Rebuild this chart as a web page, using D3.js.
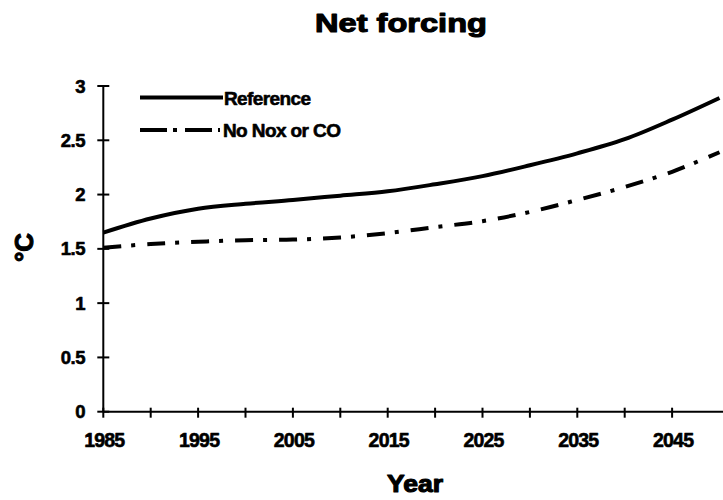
<!DOCTYPE html>
<html>
<head>
<meta charset="utf-8">
<script src="https://cdn.jsdelivr.net/npm/d3@7/dist/d3.min.js"></script>
<style>
  html, body { margin: 0; padding: 0; background: #fff; }
  svg { display: block; }
  text { font-family: "Liberation Sans", Arial, Helvetica, sans-serif; font-weight: bold; fill: #000; stroke: #000; stroke-width: 0.6px; stroke-linejoin: round; }
  text.heading { stroke-width: 1.1px; }
</style>
</head>
<body>
<svg id="chart" width="723" height="500"></svg>
<script>
// Years of the projection (5-year steps)
const years = [1985, 1990, 1995, 2000, 2005, 2010, 2015, 2020, 2025, 2030, 2035, 2040, 2045, 2050];
// Net forcing, °C
const referenceValues = [1.65, 1.78, 1.87, 1.915, 1.95, 1.99, 2.03, 2.095, 2.17, 2.27, 2.38, 2.51, 2.69, 2.89];
const noNoxCoValues   = [1.51, 1.545, 1.565, 1.58, 1.585, 1.605, 1.645, 1.70, 1.755, 1.84, 1.95, 2.07, 2.21, 2.39];
// Axis ticks and labels
const xTickYears  = [1985, 1990, 1995, 2000, 2005, 2010, 2015, 2020, 2025, 2030, 2035, 2040, 2045];
const xLabelYears = [1985, 1995, 2005, 2015, 2025, 2035, 2045];
const yTicks = [0, 0.5, 1, 1.5, 2, 2.5, 3];
const seriesNames = ["Reference", "No Nox or CO"];

const svg = d3.select("#chart");

const x = d3.scaleLinear().domain([1985, 2050]).range([103.3, 719.5]);
const y = d3.scaleLinear().domain([0, 3]).range([411.7, 86]);

// Y axis: line with crossing ticks
const yAxis = svg.append("g");
yAxis.append("line")
  .attr("x1", x(1985)).attr("x2", x(1985))
  .attr("y1", y(0)).attr("y2", y(3))
  .attr("stroke", "#000").attr("stroke-width", 2);
yAxis.selectAll("line.tick").data(yTicks).join("line")
  .attr("class", "tick")
  .attr("x1", x(1985) - 6).attr("x2", x(1985) + 6)
  .attr("y1", d => y(d)).attr("y2", d => y(d))
  .attr("stroke", "#000").attr("stroke-width", 2);
yAxis.selectAll("text").data(yTicks).join("text")
  .attr("x", 85).attr("y", d => y(d) + 6.5)
  .attr("text-anchor", "end")
  .attr("font-size", 18.5)
  .attr("letter-spacing", -0.5)
  .text(d => d3.format("~g")(d));

// X axis
const xAxis = svg.append("g");
xAxis.append("line")
  .attr("x1", x(1985)).attr("x2", 723)
  .attr("y1", y(0)).attr("y2", y(0))
  .attr("stroke", "#000").attr("stroke-width", 2);
xAxis.selectAll("line.tick").data(xTickYears).join("line")
  .attr("class", "tick")
  .attr("x1", d => x(d)).attr("x2", d => x(d))
  .attr("y1", y(0) - 4).attr("y2", y(0) + 6)
  .attr("stroke", "#000").attr("stroke-width", 2);
xAxis.selectAll("text").data(xLabelYears).join("text")
  .attr("x", d => x(d) + 1).attr("y", 447)
  .attr("text-anchor", "middle")
  .attr("font-size", 19.5)
  .attr("letter-spacing", -0.8)
  .text(d => d);

// Series lines
const line = d3.line()
  .x(d => x(d[0]))
  .y(d => y(d[1]))
  .curve(d3.curveCatmullRom);

svg.append("path")
  .datum(d3.zip(years, referenceValues))
  .attr("d", line)
  .attr("fill", "none")
  .attr("stroke", "#000")
  .attr("stroke-width", 4)
  .attr("stroke-linejoin", "round");

svg.append("path")
  .datum(d3.zip(years, noNoxCoValues))
  .attr("d", line)
  .attr("fill", "none")
  .attr("stroke", "#000")
  .attr("stroke-width", 4)
  .attr("stroke-dasharray", "18,10,4,12");

// Legend
const legend = svg.append("g");
legend.append("line")
  .attr("x1", 140).attr("x2", 223).attr("y1", 97.5).attr("y2", 97.5)
  .attr("stroke", "#000").attr("stroke-width", 4);
legend.append("text")
  .attr("x", 224).attr("y", 105)
  .attr("font-size", 19).attr("letter-spacing", -0.6)
  .text(seriesNames[0]);
legend.append("line")
  .attr("x1", 140).attr("x2", 220).attr("y1", 130).attr("y2", 130)
  .attr("stroke", "#000").attr("stroke-width", 4)
  .attr("stroke-dasharray", "27,6,4,8");
legend.append("text")
  .attr("x", 223).attr("y", 137)
  .attr("font-size", 19).attr("letter-spacing", -0.6)
  .text(seriesNames[1]);

// Title and axis titles
svg.append("text")
  .attr("class", "heading")
  .attr("x", 315).attr("y", 31.7)
  .attr("font-size", 26)
  .attr("textLength", 172).attr("lengthAdjust", "spacingAndGlyphs")
  .text("Net forcing");

svg.append("text")
  .attr("class", "heading")
  .attr("x", 387).attr("y", 491.5)
  .attr("font-size", 23)
  .attr("textLength", 56).attr("lengthAdjust", "spacingAndGlyphs")
  .text("Year");

svg.append("text")
  .attr("class", "heading")
  .attr("transform", "translate(33,247.5) rotate(-90)")
  .attr("text-anchor", "middle")
  .attr("font-size", 26)
  .text("°C");
</script>
</body>
</html>
